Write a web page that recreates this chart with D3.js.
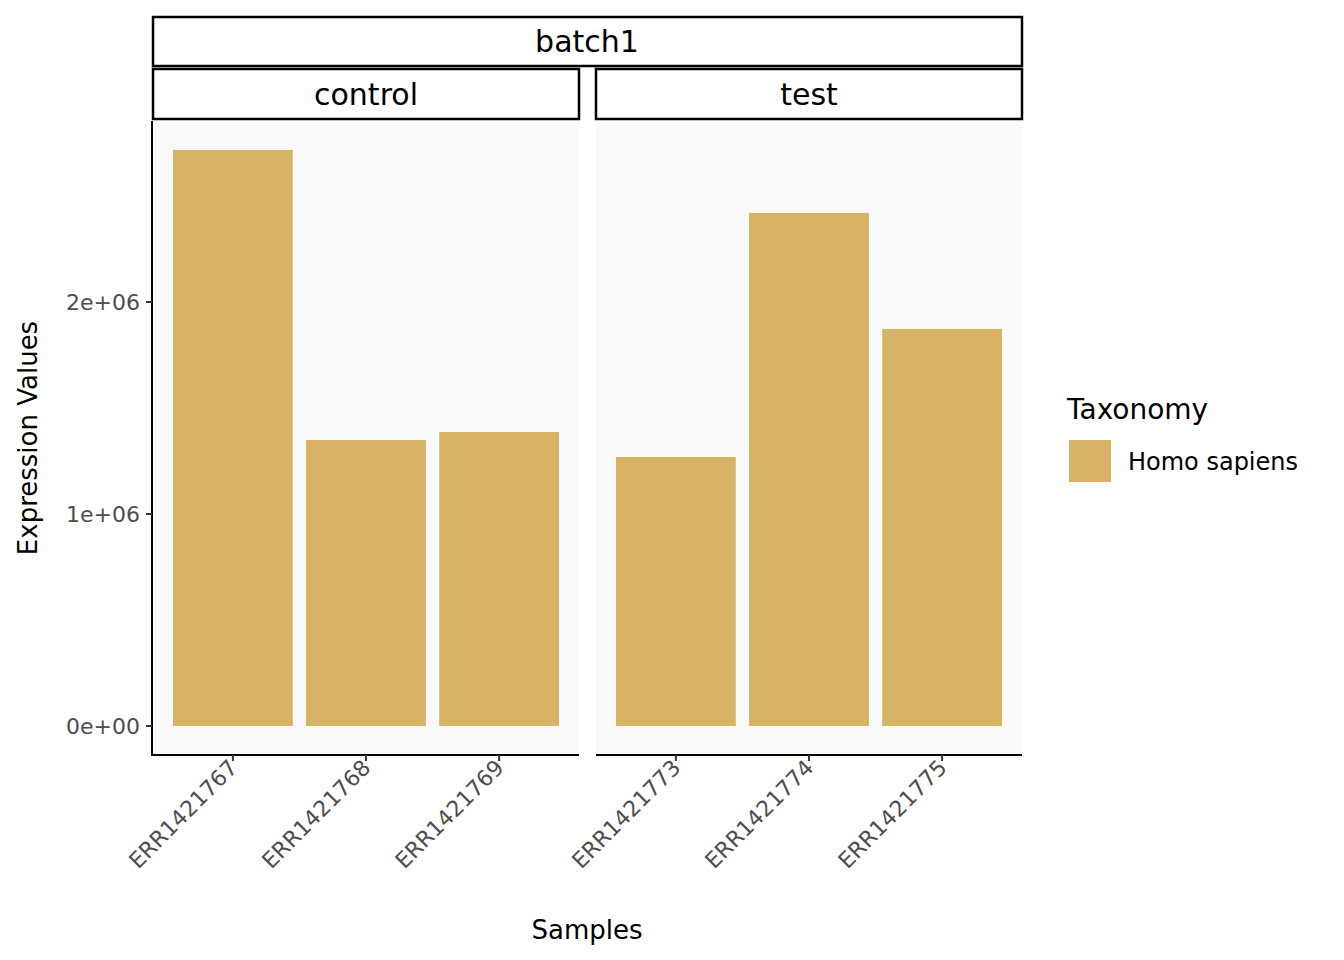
<!DOCTYPE html>
<html><head><meta charset="utf-8">
<script src="https://cdn.jsdelivr.net/npm/d3@7"></script>
<style>body{margin:0;background:#fff}text{font-family:"DejaVu Sans",sans-serif}</style>
</head><body><svg width="1344" height="960"></svg>
<script>
var groups = ["control", "test"];
var samples = [["ERR1421767", "ERR1421768", "ERR1421769"], ["ERR1421773", "ERR1421774", "ERR1421775"]];
var values = [[2717000, 1349000, 1387000], [1269000, 2420000, 1873000]];
var yTicks = [0, 1e6, 2e6];
var tickLabels = ["0e+00", "1e+06", "2e+06"];
var fill = "#D8B365";

var svg = d3.select("svg");
var y = d3.scaleLinear().domain([0, 1e6]).range([726, 514]);
var panelTop = 121, panelBottom = 755;
var panelX = [153, 596], panelW = 426;

// batch strip
svg.append("rect").attr("x", 153).attr("y", 17).attr("width", 869).attr("height", 49)
  .attr("fill", "#fff").attr("stroke", "#000").attr("stroke-width", 2.5);
svg.append("text").attr("x", 587).attr("y", 52).attr("text-anchor", "middle")
  .attr("font-size", 30).text("batch1");

groups.forEach(function (g, i) {
  var x0 = panelX[i];
  var x = d3.scaleLinear().domain([0.4, 3.6]).range([x0, x0 + panelW]);
  svg.append("rect").attr("x", x0).attr("y", 69).attr("width", panelW).attr("height", 50)
    .attr("fill", "#fff").attr("stroke", "#000").attr("stroke-width", 2.5);
  svg.append("text").attr("x", x0 + panelW / 2).attr("y", 105).attr("text-anchor", "middle")
    .attr("font-size", 30).text(g);
  svg.append("rect").attr("x", x0).attr("y", panelTop).attr("width", panelW)
    .attr("height", panelBottom - panelTop).attr("fill", "#f9f9f9");
  svg.selectAll(null).data(values[i]).enter().append("rect")
    .attr("x", function (d, j) { return x(j + 1 - 0.45); })
    .attr("width", x(1.45) - x(0.55))
    .attr("y", function (d) { return y(d); })
    .attr("height", function (d) { return y(0) - y(d); })
    .attr("fill", fill);
  svg.append("line").attr("x1", x0).attr("x2", x0 + panelW).attr("y1", panelBottom).attr("y2", panelBottom)
    .attr("stroke", "#000").attr("stroke-width", 2);
  samples[i].forEach(function (s, j) {
    var cx = x(j + 1);
    svg.append("line").attr("x1", cx).attr("x2", cx).attr("y1", panelBottom).attr("y2", panelBottom + 6)
      .attr("stroke", "#333").attr("stroke-width", 2);
    svg.append("text").attr("transform", "translate(" + (cx + 6) + "," + (panelBottom + 14) + ") rotate(-45)")
      .attr("text-anchor", "end").attr("font-size", 22).attr("fill", "#4d4d4d").text(s);
  });
});

// y axis
svg.append("line").attr("x1", 152).attr("x2", 152).attr("y1", panelTop).attr("y2", panelBottom + 1)
  .attr("stroke", "#000").attr("stroke-width", 2);
yTicks.forEach(function (t, k) {
  svg.append("line").attr("x1", 146).attr("x2", 152).attr("y1", y(t)).attr("y2", y(t))
    .attr("stroke", "#333").attr("stroke-width", 2);
  svg.append("text").attr("x", 140).attr("y", y(t) + 8).attr("text-anchor", "end")
    .attr("font-size", 22).attr("fill", "#4d4d4d").text(tickLabels[k]);
});

svg.append("text").attr("transform", "translate(37,438) rotate(-90)").attr("text-anchor", "middle")
  .attr("font-size", 26).text("Expression Values");
svg.append("text").attr("x", 587).attr("y", 939).attr("text-anchor", "middle")
  .attr("font-size", 26).text("Samples");

// legend
svg.append("text").attr("x", 1067).attr("y", 419).attr("font-size", 28).text("Taxonomy");
svg.append("rect").attr("x", 1069).attr("y", 440).attr("width", 42).attr("height", 42).attr("fill", fill);
svg.append("text").attr("x", 1128).attr("y", 470).attr("font-size", 24).text("Homo sapiens");
</script></body></html>
